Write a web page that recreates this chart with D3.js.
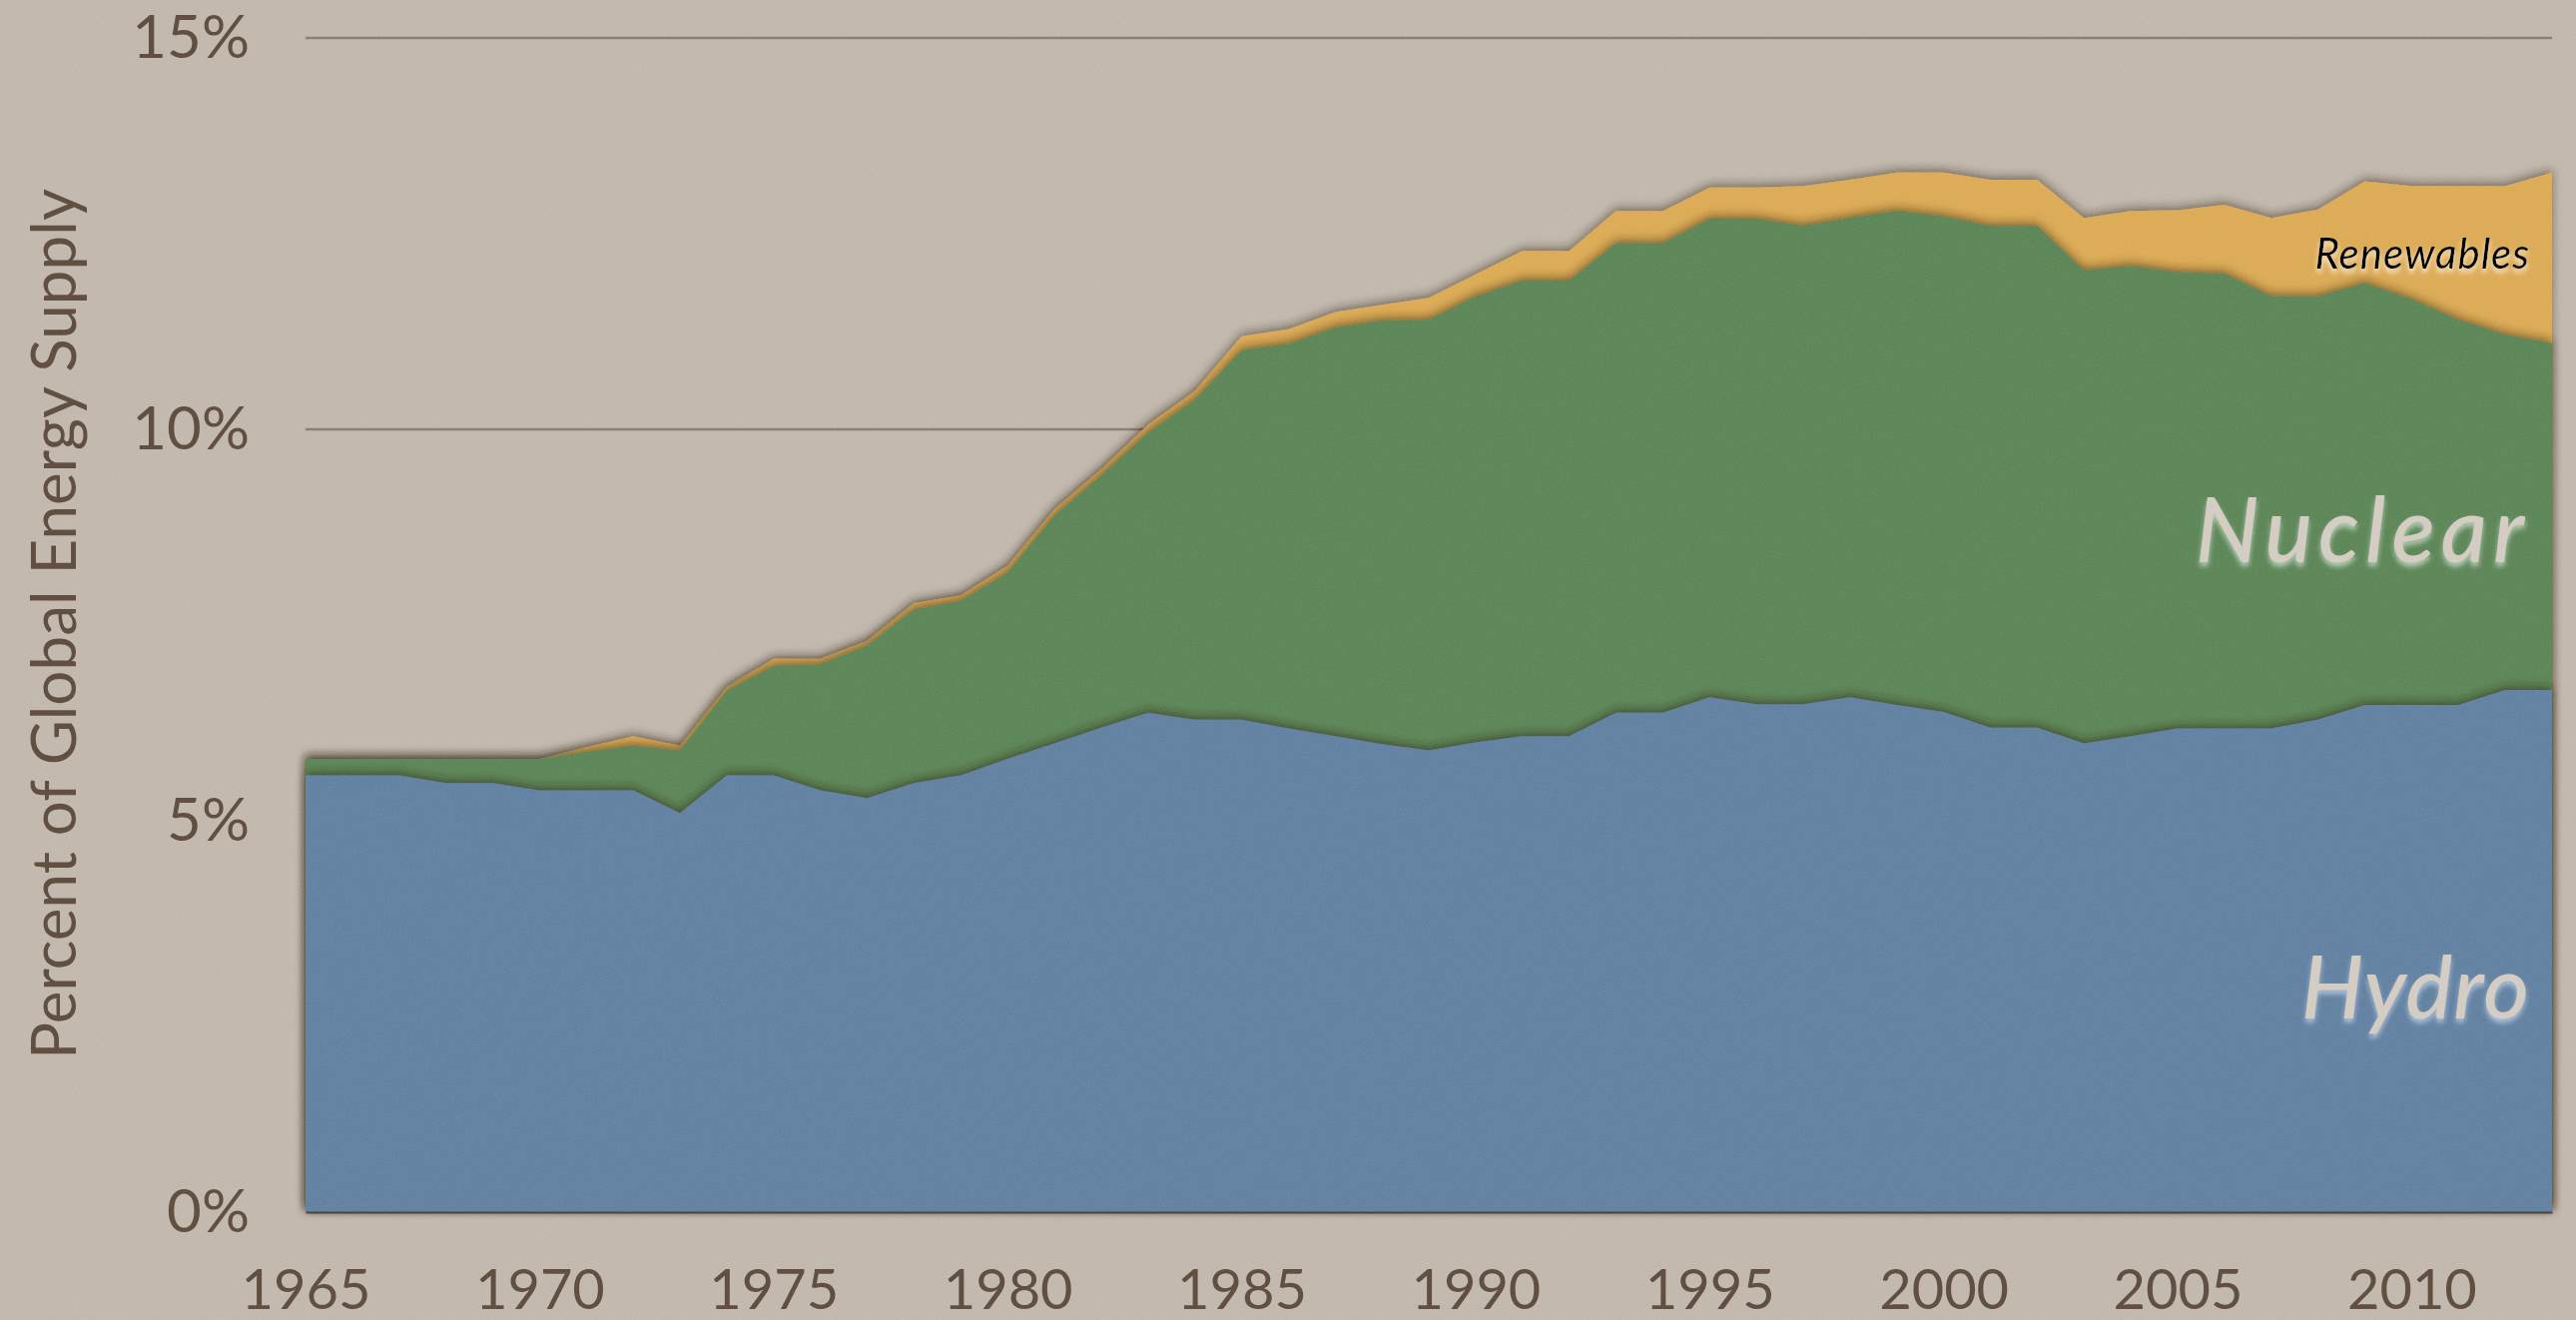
<!DOCTYPE html>
<html>
<head>
<meta charset="utf-8">
<script src="https://cdn.jsdelivr.net/npm/d3@7"></script>
<style>
  body { margin: 0; background: #bfb5a9; overflow: hidden; }
  svg { display: block; }
  .tick text { fill: #5b4a3e; font-family: "Avenir Next", Lato, "Open Sans", sans-serif; }
</style>
</head>
<body>
<script>
//-----------------Data----------------
const years = d3.range(1965, 2014);

const hydro = [
  5.58, 5.58, 5.58, 5.48, 5.48, 5.39, 5.39, 5.39, 5.10, 5.58,
  5.58, 5.39, 5.29, 5.48, 5.58, 5.79, 5.99, 6.19, 6.38, 6.29,
  6.29, 6.18, 6.08, 5.98, 5.90, 6.00, 6.08, 6.08, 6.38, 6.38,
  6.58, 6.49, 6.49, 6.58, 6.48, 6.39, 6.19, 6.19, 5.99, 6.08,
  6.18, 6.18, 6.18, 6.29, 6.48, 6.48, 6.48, 6.67, 6.67
];

const nuclear = [
  0.21, 0.21, 0.21, 0.31, 0.31, 0.40, 0.49, 0.57, 0.80, 1.08,
  1.40, 1.61, 1.95, 2.22, 2.23, 2.38, 2.91, 3.22, 3.58, 4.09,
  4.72, 4.91, 5.22, 5.41, 5.50, 5.70, 5.82, 5.82, 6.00, 6.00,
  6.11, 6.20, 6.11, 6.12, 6.31, 6.33, 6.41, 6.41, 6.04, 6.01,
  5.83, 5.81, 5.52, 5.41, 5.39, 5.18, 4.92, 4.54, 4.43
];

const renewables = [
  0.00, 0.00, 0.00, 0.00, 0.00, 0.00, 0.06, 0.12, 0.06, 0.05,
  0.09, 0.07, 0.06, 0.08, 0.07, 0.09, 0.08, 0.08, 0.10, 0.11,
  0.18, 0.19, 0.20, 0.20, 0.28, 0.28, 0.38, 0.38, 0.41, 0.41,
  0.40, 0.40, 0.51, 0.49, 0.49, 0.56, 0.59, 0.59, 0.67, 0.70,
  0.79, 0.88, 1.00, 1.11, 1.30, 1.45, 1.71, 1.90, 2.18
];

const seriesKeys = ["Hydro", "Nuclear", "Renewables"];
const seriesColors = ["#5f7b9d", "#5a8155", "#dba752"];
const yTicks = [0, 5, 10, 15];
const xTicks = d3.range(1965, 2011, 5);

//-----------------Layout----------------
const width = 2580;
const height = 1322;
const plotLeft = 306, plotRight = 2556, plotTop = 38, plotBottom = 1214;

const rows = years.map((yr, i) => ({
  year: yr,
  Hydro: hydro[i],
  Nuclear: nuclear[i],
  Renewables: renewables[i],
}));

const stacked = d3.stack().keys(seriesKeys)(rows);

const x = d3.scaleLinear().domain([1965, 2013]).range([plotLeft, plotRight]);
const y = d3.scaleLinear().domain([0, 15]).range([plotBottom, plotTop]);

const svg = d3.select("body").append("svg").attr("width", width).attr("height", height);
const defs = svg.append("defs");

// soft shadow cast by each layer
const shadow = defs.append("filter").attr("id", "shadow").attr("x", "-5%").attr("y", "-10%").attr("width", "110%").attr("height", "120%");
shadow.append("feDropShadow").attr("dx", 0).attr("dy", -3).attr("stdDeviation", 5)
  .attr("flood-color", "#2a2018").attr("flood-opacity", 0.55);

// paper grain
const grain = defs.append("filter").attr("id", "grain").attr("x", 0).attr("y", 0).attr("width", "100%").attr("height", "100%");
grain.append("feTurbulence").attr("type", "fractalNoise").attr("baseFrequency", 0.75).attr("numOctaves", 3).attr("seed", 4);
grain.append("feColorMatrix").attr("type", "matrix")
  .attr("values", "1 0 0 0 0  1 0 0 0 0  1 0 0 0 0  0 0 0 0 1");

function glow(id, color, opacity) {
  const f = defs.append("filter").attr("id", id).attr("x", "-10%").attr("y", "-30%").attr("width", "120%").attr("height", "160%");
  f.append("feDropShadow").attr("dx", 0).attr("dy", 4).attr("stdDeviation", 2.5)
    .attr("flood-color", color).attr("flood-opacity", opacity);
}
glow("glowHydro", "#c4d8ee", 0.7);
glow("glowNuclear", "#cfe6cf", 0.7);
glow("glowRenew", "#fff4d8", 0.9);

svg.append("rect").attr("width", width).attr("height", height).attr("fill", "#bfb5a9");

//-----------------Grid----------------
svg.append("g")
  .selectAll("line")
  .data(yTicks.filter((d) => d > 0))
  .enter()
  .append("line")
  .attr("x1", plotLeft)
  .attr("x2", plotRight)
  .attr("y1", (d) => y(d))
  .attr("y2", (d) => y(d))
  .attr("stroke", "#857970")
  .attr("stroke-width", 2.5);

//-----------------Areas----------------
// full areas from the baseline, top layer drawn first so each shadow falls on the one above
const area = d3.area()
  .x((d) => x(d.data.year))
  .y0(y(0))
  .y1((d) => y(d[1]));

svg.append("g")
  .selectAll("path")
  .data(stacked.slice().reverse())
  .enter()
  .append("path")
  .attr("d", area)
  .attr("fill", (d) => seriesColors[seriesKeys.indexOf(d.key)])
  .attr("filter", "url(#shadow)");

//-----------------Axes----------------
const xAxis = svg.append("g")
  .attr("transform", `translate(0, ${plotBottom})`)
  .call(d3.axisBottom(x).tickValues(xTicks).tickFormat(d3.format("d")).tickSize(0).tickSizeOuter(0).tickPadding(57));
xAxis.select(".domain").attr("stroke", "#4a3f37").attr("stroke-width", 2);
xAxis.selectAll("text").style("font-size", "56px");

const yAxis = svg.append("g")
  .attr("transform", `translate(${plotLeft}, 0)`)
  .call(d3.axisLeft(y).tickValues(yTicks).tickFormat((d) => d + "%").tickSize(0).tickPadding(56));
yAxis.select(".domain").remove();
yAxis.selectAll("text").style("font-size", "60px");

svg.append("text")
  .attr("transform", "translate(76, 625) rotate(-90)")
  .attr("text-anchor", "middle")
  .attr("fill", "#5b4a3e")
  .style("font-family", "'Avenir Next', Lato, 'Open Sans', sans-serif")
  .style("font-size", "62px")
  .text("Percent of Global Energy Supply");

//-----------------Series labels----------------
const labels = [
  { text: "Hydro", value: 2.47, size: 88, spacing: 1, fill: "#d2cabf", filter: "glowHydro" },
  { text: "Nuclear", value: 8.3, size: 90, spacing: 6, fill: "#d2cabf", filter: "glowNuclear" },
  { text: "Renewables", value: 12.05, size: 42, spacing: 1, fill: "#000", filter: "glowRenew" },
];

svg.append("g")
  .selectAll("text")
  .data(labels)
  .enter()
  .append("text")
  .attr("x", plotRight - 22)
  .attr("y", (d) => y(d.value))
  .attr("text-anchor", "end")
  .attr("fill", (d) => d.fill)
  .attr("filter", (d) => `url(#${d.filter})`)
  .style("font-family", "'Avenir Next', Lato, 'Open Sans', sans-serif")
  .style("font-style", "italic")
  .style("font-weight", (d) => (d.size > 60 ? 500 : 400))
  .style("letter-spacing", (d) => d.spacing + "px")
  .style("font-size", (d) => d.size + "px")
  .text((d) => d.text);

//-----------------Texture----------------
svg.append("rect")
  .attr("width", width)
  .attr("height", height)
  .attr("filter", "url(#grain)")
  .style("opacity", 0.13)
  .style("mix-blend-mode", "overlay")
  .style("pointer-events", "none");
</script>
</body>
</html>
